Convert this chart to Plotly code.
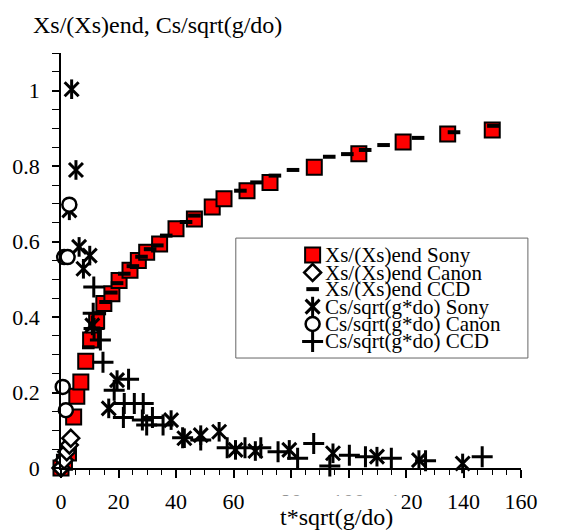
import plotly.graph_objects as go

# ---------------- data ----------------
xs_sony_x = [0, 1.2, 2.6, 4.4, 5.5, 6.9, 8.6, 10.3, 12.4, 14.9, 17.7, 20.2, 24.0, 26.9, 29.8,
             34.3, 40.0, 46.4, 52.6, 56.7, 64.7, 72.7, 88.1, 103.6, 119.0, 134.5, 150.0]
xs_sony_y = [0.0, 0.015, 0.04, 0.135, 0.19, 0.228, 0.283, 0.339, 0.39, 0.436, 0.462, 0.497, 0.524,
             0.55, 0.572, 0.594, 0.634, 0.66, 0.692, 0.714, 0.735, 0.757, 0.797, 0.833, 0.864,
             0.885, 0.896]

xs_canon_x = [0, 1.1, 2.0, 2.9, 3.4]
xs_canon_y = [0.0, 0.021, 0.043, 0.061, 0.079]

xs_ccd_x = [9.5, 11.5, 13.5, 15.5, 17.5, 19.5, 22.0, 25.0, 28.0, 31.0, 33.5, 36.6, 43.5, 46.4,
            62.4, 68.0, 74.4, 80.7, 93.3, 99.6, 105.8, 112.2, 124.2, 136.7, 150.4]
xs_ccd_y = [0.32, 0.37, 0.41, 0.44, 0.465, 0.49, 0.515, 0.535, 0.56, 0.58, 0.59, 0.616, 0.652,
            0.669, 0.735, 0.757, 0.775, 0.79, 0.825, 0.832, 0.843, 0.856, 0.875, 0.89, 0.907]

cs_sony_x = [3.7, 5.2, 2.9, 6.3, 10.0, 7.8, 10.9, 19.5, 16.6, 38.3, 42.9, 48.6, 55.0, 60.7,
             67.6, 79.4, 94.6, 109.9, 124.5, 139.7]
cs_sony_y = [1.004, 0.79, 0.683, 0.586, 0.563, 0.528, 0.378, 0.233, 0.158, 0.127, 0.079, 0.087,
             0.096, 0.048, 0.045, 0.048, 0.039, 0.03, 0.021, 0.012]

cs_canon_x = [2.9, 1.1, 2.3, 0.6, 1.7]
cs_canon_y = [0.698, 0.559, 0.559, 0.215, 0.153]

cs_ccd_x = [11.4, 11.2, 11.5, 13.7, 14.6, 23.5, 18.5, 22.0, 25.5, 28.6, 21.7, 28.3, 31.8, 29.8,
            35.5, 42.3, 48.6, 57.8, 64.0, 69.5, 75.5, 82.3, 87.9, 93.5, 100.3, 105.9, 114.9,
            126.8, 146.5]
cs_ccd_y = [0.48, 0.41, 0.37, 0.339, 0.28, 0.235, 0.206, 0.171, 0.171, 0.171, 0.134, 0.127,
            0.134, 0.114, 0.114, 0.08, 0.074, 0.054, 0.054, 0.054, 0.043, 0.026, 0.065, 0.005,
            0.034, 0.03, 0.026, 0.019, 0.03]

legend_labels = ["Xs/(Xs)end Sony", "Xs/(Xs)end Canon", "Xs/(Xs)end CCD",
                 "Cs/sqrt(g*do) Sony", "Cs/sqrt(g*do) Canon", "Cs/sqrt(g*do) CCD"]

x_tick_vals = [0, 20, 40, 60, 80, 100, 120, 140, 160]
y_tick_vals = [0, 0.2, 0.4, 0.6, 0.8, 1]
y_tick_text = ["0", "0.2", "0.4", "0.6", "0.8", "1"]

x_title = "t*sqrt(g/do)"
y_title = "Xs/(Xs)end, Cs/sqrt(g/do)"

# ---------------- styles ----------------
FONT = "Liberation Serif, Times New Roman, serif"
styles = [
    dict(symbol="square", size=15, color="#ff0000", line=dict(color="black", width=2)),
    dict(symbol="diamond", size=13, color="white", line=dict(color="black", width=2.5)),
    dict(symbol="line-ew", size=9, color="black", line=dict(color="black", width=4)),
    dict(symbol="x-thin", size=14, color="black", line=dict(color="black", width=3)),
    dict(symbol="circle", size=14, color="white", line=dict(color="black", width=2.5)),
    dict(symbol="cross-thin", size=15, color="black", line=dict(color="black", width=3)),
]
star_vertical = dict(symbol="line-ns", size=14, color="black", line=dict(color="black", width=3))

series = [
    (xs_sony_x, xs_sony_y),
    (xs_canon_x, xs_canon_y),
    (xs_ccd_x, xs_ccd_y),
    (cs_sony_x, cs_sony_y),
    (cs_canon_x, cs_canon_y),
    (cs_ccd_x, cs_ccd_y),
]

fig = go.Figure()
for i, ((sx, sy), st) in enumerate(zip(series, styles)):
    fig.add_trace(go.Scatter(x=sx, y=sy, mode="markers", marker=st, name=legend_labels[i],
                             showlegend=False, cliponaxis=False, hoverinfo="x+y"))
    if i == 3:
        fig.add_trace(go.Scatter(x=sx, y=sy, mode="markers", marker=star_vertical,
                                 showlegend=False, cliponaxis=False, hoverinfo="skip"))

# ---------------- manual legend (drawn on an overlay axis spanning the plot area) ----------------
leg_sym_x = 0.547
leg_txt_x = 0.569
leg_rows = [0.513, 0.471, 0.431, 0.389, 0.347, 0.305]
for i, st in enumerate(styles):
    fig.add_trace(go.Scatter(x=[leg_sym_x], y=[leg_rows[i]], xaxis="x2", yaxis="y2",
                             mode="markers", marker=st, showlegend=False,
                             cliponaxis=False, hoverinfo="skip"))
    if i == 3:
        fig.add_trace(go.Scatter(x=[leg_sym_x], y=[leg_rows[i]], xaxis="x2", yaxis="y2",
                                 mode="markers", marker=star_vertical, showlegend=False,
                                 cliponaxis=False, hoverinfo="skip"))
    fig.add_annotation(x=leg_txt_x, y=leg_rows[i], xref="paper", yref="paper",
                       text=legend_labels[i], showarrow=False, xanchor="left",
                       yanchor="middle", font=dict(family=FONT, size=21, color="black"))

fig.add_shape(type="rect", xref="paper", yref="paper", x0=0.380, x1=1.015, y0=0.265, y1=0.554,
              line=dict(color="#666666", width=1), fillcolor="rgba(0,0,0,0)", layer="below")

# axis titles
fig.add_annotation(x=0.599, y=-0.118, xref="paper", yref="paper", text=x_title,
                   showarrow=False, xanchor="center", yanchor="middle",
                   bgcolor="white", borderpad=8,
                   font=dict(family=FONT, size=24, color="black"))
fig.add_annotation(x=-0.065, y=1.067, xref="paper", yref="paper", text=y_title,
                   showarrow=False, xanchor="left", yanchor="middle",
                   font=dict(family=FONT, size=24, color="black"))

fig.update_layout(
    width=564, height=530,
    margin=dict(l=55, r=43, t=53, b=62, pad=0),
    paper_bgcolor="white", plot_bgcolor="white",
    font=dict(family=FONT, size=22, color="black"),
    showlegend=False,
    xaxis=dict(range=[0, 160], tickvals=x_tick_vals, ticks="outside", ticklen=8,
               tickwidth=1.5, tickcolor="black", showline=True, linecolor="black",
               linewidth=1.5, showgrid=False, zeroline=False, ticklabelstandoff=5,
               minor=dict(dtick=5, ticks="outside", ticklen=5, tickwidth=1, tickcolor="black"),
               tickfont=dict(family=FONT, size=22, color="black")),
    yaxis=dict(range=[0, 1.1], tickvals=y_tick_vals, ticktext=y_tick_text, ticks="outside",
               ticklen=7, tickwidth=1.5, tickcolor="black", showline=True, linecolor="black",
               linewidth=1.5, showgrid=False, zeroline=False, ticklabelstandoff=8,
               minor=dict(dtick=0.05, ticks="outside", ticklen=7, tickwidth=1, tickcolor="black"),
               tickfont=dict(family=FONT, size=22, color="black")),
    xaxis2=dict(range=[0, 1], overlaying="x", visible=False, fixedrange=True),
    yaxis2=dict(range=[0, 1], overlaying="y", visible=False, fixedrange=True),
)

fig.write_html("out.html", config={"displayModeBar": False},
               post_script="document.body.style.margin='0';")
